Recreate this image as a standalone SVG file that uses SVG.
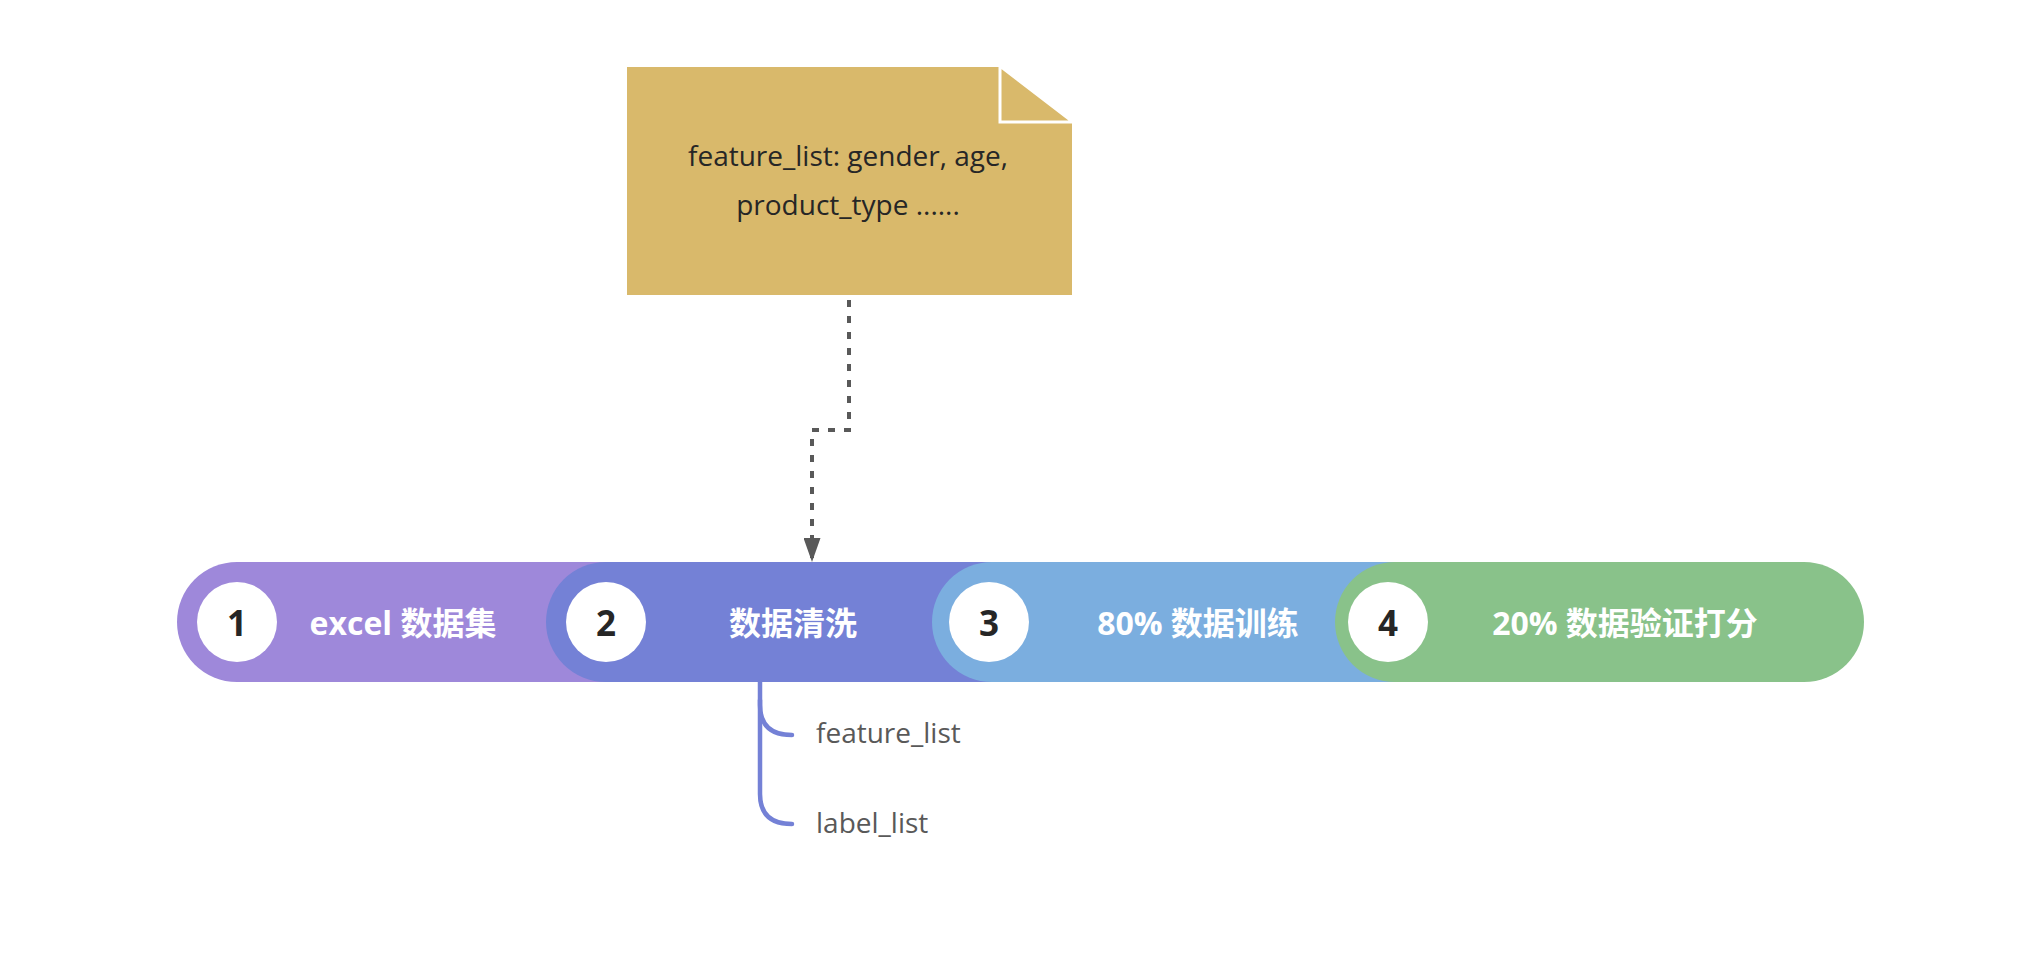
<svg xmlns="http://www.w3.org/2000/svg" width="2032" height="970" viewBox="0 0 2032 970">
<style>
.lbl{font-family:"Open Sans","Noto Sans CJK SC",sans-serif;font-weight:700;font-size:32px;fill:#ffffff;text-anchor:middle;dominant-baseline:central}
.num{font-family:"Open Sans","Liberation Sans",sans-serif;font-weight:700;font-size:35px;fill:#262626;text-anchor:middle;dominant-baseline:central}
.note{font-family:"Open Sans","Liberation Sans",sans-serif;font-size:28px;fill:#262626;text-anchor:middle}
.leaf{font-family:"Open Sans","Liberation Sans",sans-serif;font-size:28px;fill:#595959}
.disc{fill:#ffffff}
</style>
<defs>
<marker id="arr" viewBox="0 0 24 17" refX="24" refY="8.5" markerWidth="24" markerHeight="17" markerUnits="userSpaceOnUse" orient="auto">
<path d="M0,0 L24,8.5 L0,17 Z" fill="#595959"/>
</marker>
</defs>
<rect width="2032" height="970" fill="#ffffff"/>
<g id="note">
<path d="M626,66 H1000 L1073,122 V296 H626 Z" fill="#D9B96B" stroke="#ffffff" stroke-width="2"/>
<path d="M1000,66 V122 H1073 Z" fill="#D9B96B" stroke="#ffffff" stroke-width="3" stroke-linejoin="miter"/>
<text class="note" x="848" y="166">feature_list: gender, age,</text>
<text class="note" x="848" y="215">product_type ......</text>
</g>
<g id="step1">
<rect x="177" y="562" width="540" height="120" rx="60" fill="#9E88DA"/>
<circle class="disc" cx="237" cy="622" r="40"/>
<text class="num" x="237" y="622">1</text>
<text class="lbl" x="403" y="622">excel 数据集</text>
</g>
<g id="step2">
<rect x="546" y="562" width="560" height="120" rx="60" fill="#7481D6"/>
<circle class="disc" cx="606" cy="622" r="40"/>
<text class="num" x="606" y="622">2</text>
<text class="lbl" x="793" y="622">数据清洗</text>
</g>
<g id="step3">
<rect x="932" y="562" width="540" height="120" rx="60" fill="#7BAEDF"/>
<circle class="disc" cx="989" cy="622" r="40"/>
<text class="num" x="989" y="622">3</text>
<text class="lbl" x="1198" y="622">80% 数据训练</text>
</g>
<g id="step4">
<rect x="1335" y="562" width="529" height="120" rx="60" fill="#89C28A"/>
<circle class="disc" cx="1388" cy="622" r="40"/>
<text class="num" x="1388" y="622">4</text>
<text class="lbl" x="1625" y="622">20% 数据验证打分</text>
</g>
<g id="leaves">
<text class="leaf" x="816" y="743">feature_list</text>
<text class="leaf" x="816" y="833">label_list</text>
</g>
<g id="connectors">
<path d="M849,300 V430 H812 V562" fill="none" stroke="#595959" stroke-width="4" stroke-dasharray="7,9" marker-end="url(#arr)"/>
<path d="M760,682 V705 Q760,735 792,735" fill="none" stroke="#7481D6" stroke-width="4.5" stroke-linecap="round"/>
<path d="M760,700 V794 Q760,824 792,824" fill="none" stroke="#7481D6" stroke-width="4.5" stroke-linecap="round"/>
</g>
</svg>
